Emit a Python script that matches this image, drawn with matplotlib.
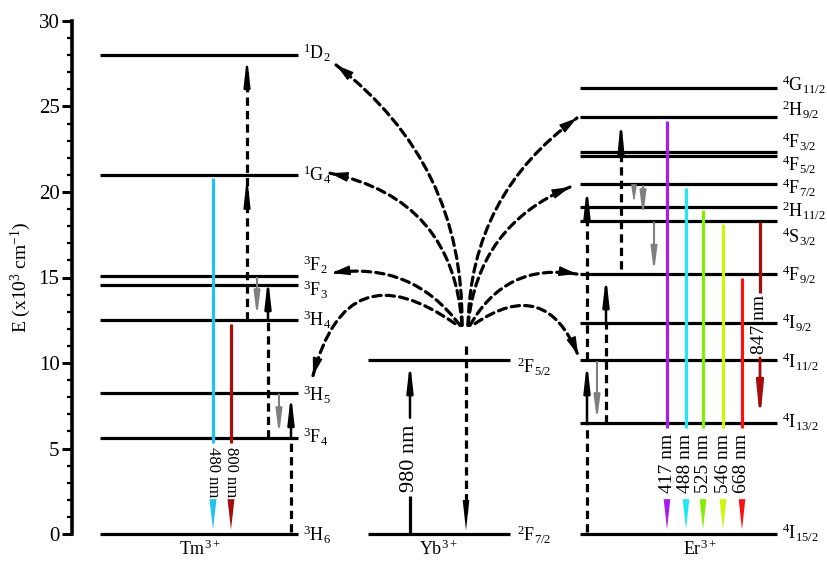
import numpy as np
import matplotlib.pyplot as plt
from matplotlib.patches import FancyArrowPatch
from matplotlib.ticker import MultipleLocator

plt.rcParams['font.family'] = 'Liberation Serif'
plt.rcParams['mathtext.fontset'] = 'custom'
plt.rcParams['mathtext.rm'] = 'Liberation Serif'
plt.rcParams['mathtext.it'] = 'Liberation Serif:italic'

# -----------------------------
# Energieniveaus (x10^3 cm^-1)
# -----------------------------
tm_terms = ['3H6', '3F4', '3H5', '3H4', '3F3', '3F2', '1G4', '1D2']
tm_energy = [0.0, 5.6, 8.26, 12.5, 14.56, 15.09, 21.0, 28.0]

yb_terms = ['2F7/2', '2F5/2']
yb_energy = [0.0, 10.17]

er_terms = ['4I15/2', '4I13/2', '4I11/2', '4I9/2', '4F9/2', '4S3/2',
            '2H11/2', '4F7/2', '4F5/2', '4F3/2', '2H9/2', '4G11/2']
er_energy = [0.0, 6.47, 10.17, 12.36, 15.2, 18.32, 19.14, 20.45, 22.12,
             22.36, 24.37, 26.06]

# Emissionen (nm) und Startniveau
tm_emis_nm = [480, 800]
tm_emis_from = ['1G4', '3H4']
tm_emis_color = ['#1ec4f0', '#a80c0c']

er_emis_nm = [417, 488, 525, 546, 668]
er_emis_from = ['2H9/2', '4F7/2', '2H11/2', '4S3/2', '4F9/2']
er_emis_color = ['#a81cf0', '#1ee8f0', '#84ee00', '#ccf800', '#ff1010']

tm = dict(zip(tm_terms, tm_energy))
yb = dict(zip(yb_terms, yb_energy))
er = dict(zip(er_terms, er_energy))

# Layout (Pixel-x, da xlim = Bildbreite)
TM_X = (100, 298)
YB_X = (368, 510)
ER_X = (580, 777)

# Label-Versatz (Baseline relativ zum Niveau)
tm_lab_dy = {'3H6': -0.44, '3F4': -0.31, '3H5': -0.51, '3H4': -0.37,
             '3F3': -0.67, '3F2': 0.26, '1G4': -0.39, '1D2': -0.25}
yb_lab_dy = {'2F7/2': -0.44, '2F5/2': -0.78}
er_lab_dy = {'4I15/2': -0.32, '4I13/2': -0.30, '4I11/2': -0.49,
             '4I9/2': -0.40, '4F9/2': -0.43, '4S3/2': -1.33, '2H11/2': -0.64,
             '4F7/2': -0.60, '4F5/2': -0.92, '4F3/2': 0.18, '2H9/2': 0.05,
             '4G11/2': -0.18}

LW = 2.3
DASH = (0, (2.6, 1.6))
GRAY = '#7f7f7f'


def term_label(t):
    return r'$\mathrm{^{%s}%s_{%s}}$' % (t[0], t[1], t[2:])


fig = plt.figure(figsize=(8.27, 5.61), dpi=100)
ax = fig.add_axes([72 / 827, 27 / 561, 755 / 827, 513 / 561])
ax.set_xlim(72, 827)
ax.set_ylim(0, 30)


def vline(x, y0, y1, color='k', lw=LW, ls='-'):
    ax.plot([x, x], [y0, y1], color=color, lw=lw, ls=ls,
            solid_capstyle='butt', dash_capstyle='butt', clip_on=False)


def arrow(x, y0, y1, color='k', hl=1.6, hw=0.18, lw=LW):
    ax.annotate('', xy=(x, y1), xytext=(x, y0),
                arrowprops=dict(arrowstyle=f'-|>,head_length={hl},head_width={hw}',
                                color=color, lw=lw, shrinkA=0, shrinkB=0,
                                mutation_scale=10),
                annotation_clip=False)


def fan_arrow(p0, p1, rad):
    # gestrichelte Kurve + massive Spitze in Tangentenrichtung
    ax.add_patch(FancyArrowPatch(p0, p1, connectionstyle=f'arc3,rad={rad}',
                                 arrowstyle='-', lw=LW, ls=DASH, color='k',
                                 shrinkA=0, shrinkB=0, clip_on=False))
    a = ax.transData.transform(p0)
    b = ax.transData.transform(p1)
    d = b - a
    c = (a + b) / 2 + rad * np.array([d[1], -d[0]])
    t = (b - c) / np.hypot(*(b - c))
    s = ax.transData.inverted().transform(b - t * 16)
    ax.annotate('', xy=p1, xytext=tuple(s),
                arrowprops=dict(arrowstyle='-|>,head_length=1.1,head_width=0.3',
                                color='k', lw=1.0, shrinkA=0, shrinkB=0,
                                mutation_scale=10),
                annotation_clip=False)


def levels(xr, d, dy, lx):
    for t, e in d.items():
        ax.plot(xr, [e, e], color='k', lw=LW, solid_capstyle='butt', clip_on=False)
        ax.text(lx, e + dy[t], term_label(t), fontsize=13, ha='left',
                va='baseline')


levels(TM_X, tm, tm_lab_dy, 303)
levels(YB_X, yb, yb_lab_dy, 517)
levels(ER_X, er, er_lab_dy, 782)

# -----------------------------
# Tm: Emissionen
# -----------------------------
for x, nm, src, c in zip([213, 231], tm_emis_nm, tm_emis_from, tm_emis_color):
    vline(x, tm[src] - 0.2, 5.3, color=c)
    ax.text(x, 3.6, f'{nm} nm', rotation=270, ha='center', va='center',
            fontsize=12)
    arrow(x, 1.95, 0.25, color=c, hl=2.2, hw=0.25, lw=0)

# Tm: Anregung / Relaxation
vline(247, tm['3H4'], 27.0, ls=DASH)
arrow(247, 19.6, tm['1G4'] - 0.1, lw=1.6)
arrow(247, 26.6, tm['1D2'] - 0.1, lw=1.6)
arrow(257, tm['3F2'] - 0.1, tm['3H4'] + 0.2, color=GRAY, lw=1.5, hl=1.4, hw=0.18)
vline(268, tm['3F4'], tm['3H4'], ls=DASH)
arrow(268, tm['3H4'], tm['3F2'] - 0.1, lw=1.8)
arrow(279, tm['3H5'] - 0.1, tm['3F4'] + 0.2, color=GRAY, lw=1.5, hl=1.4, hw=0.18)
vline(291, tm['3H6'] + 0.1, tm['3F4'], ls=DASH)
arrow(291, tm['3F4'], tm['3H5'] - 0.05, lw=1.8)

# -----------------------------
# Yb
# -----------------------------
vline(410, yb['2F7/2'], 2.2)
ax.text(410, 4.4, '980 nm', rotation=90, ha='center', va='center', fontsize=16)
arrow(410, 6.8, yb['2F5/2'] - 0.1, lw=1.8)
vline(466, 11.0, 1.2, ls=DASH)
arrow(466, 2.0, 0.2, hl=2.2, hw=0.24, lw=0)

# Energietransfer (Fächer)
fan = [
    (462, 12.2, 336, tm['1D2'] - 0.57, 0.25),
    (462, 12.2, 330, tm['1G4'] + 0.1, 0.38),
    (460, 12.2, 332, tm['3F2'] + 0.17, 0.3),
    (455, 12.3, 313, tm['3H5'] + 1.0, 0.72),
    (468, 12.2, 577, er['2H9/2'] - 0.04, -0.25),
    (468, 12.2, 570, er['4F7/2'] - 0.16, -0.3),
    (470, 12.2, 577, er['4F9/2'], -0.35),
    (475, 12.3, 578, er['4I11/2'] + 0.3, -0.62),
]
for x0, y0, x1, y1, rad in fan:
    fan_arrow((x0, y0), (x1, y1), rad)

# -----------------------------
# Er: Emissionen
# -----------------------------
for x, nm, src, c in zip([667, 686, 703, 723, 742], er_emis_nm, er_emis_from,
                         er_emis_color):
    vline(x, er[src] - 0.2, 6.2, color=c)
    ax.text(x, 4.15, f'{nm} nm', rotation=90, ha='center', va='center',
            fontsize=14)
    arrow(x, 2.05, 0.25, color=c, hl=2.2, hw=0.24, lw=0)

vline(760, er['4S3/2'] - 0.1, 14.1, color='#a80c0c')
ax.text(760, 12.25, '847 nm', rotation=90, ha='center', va='center', fontsize=14)
arrow(760, 10.3, er['4I13/2'] + 0.2, color='#a80c0c', hl=2.0, hw=0.2, lw=2.0)

# Er: Anregung / Relaxation
vline(587, er['4I15/2'] + 0.1, er['4I13/2'], ls=DASH)
arrow(587, er['4I13/2'], er['4I11/2'] - 0.1, lw=1.8)
vline(587, er['4I11/2'], er['4S3/2'], ls=DASH)
arrow(587, er['4S3/2'], er['4F7/2'] - 0.15, lw=1.8)
arrow(597, er['4I11/2'] - 0.1, er['4I13/2'] + 0.15, color=GRAY, lw=1.5, hl=1.4, hw=0.18)
vline(606, er['4I13/2'], er['4I9/2'], ls=DASH)
arrow(606, er['4I9/2'], er['4F9/2'] - 0.1, lw=1.8)
vline(621, 15.5, 23.0, ls=DASH)
arrow(621, 22.4, er['2H9/2'] - 0.1, lw=1.8, hl=1.8)
arrow(634, er['4F7/2'] - 0.1, 19.35, color=GRAY, lw=1.0, hl=1.0, hw=0.16)
arrow(643, er['4F7/2'] - 0.1, 18.55, color=GRAY, lw=1.5, hl=1.4, hw=0.18)
arrow(654, er['4S3/2'] - 0.1, er['4F9/2'] + 0.1, color=GRAY, lw=1.5, hl=1.4, hw=0.18)

# Ionen-Beschriftung
for x, name in [(200, 'Tm'), (438, 'Yb'), (700, 'Er')]:
    ax.text(x, -0.9, name + r'$^{3+}$', fontsize=13, ha='center', va='center')

# -----------------------------
# Achse
# -----------------------------
for s in ['top', 'right', 'bottom']:
    ax.spines[s].set_visible(False)
ax.spines['left'].set_linewidth(2.6)
ax.set_xticks([])
ax.yaxis.set_major_locator(MultipleLocator(5))
ax.yaxis.set_minor_locator(MultipleLocator(1))
ax.tick_params(axis='y', which='major', length=7, width=2.2, labelsize=15, pad=2)
ax.tick_params(axis='y', which='minor', length=3.5, width=1.6)
ax.set_ylabel(r'E (x10$^{3}$ cm$^{-1}$)', fontsize=14, labelpad=4)

fig.savefig('out.png', dpi=100)
